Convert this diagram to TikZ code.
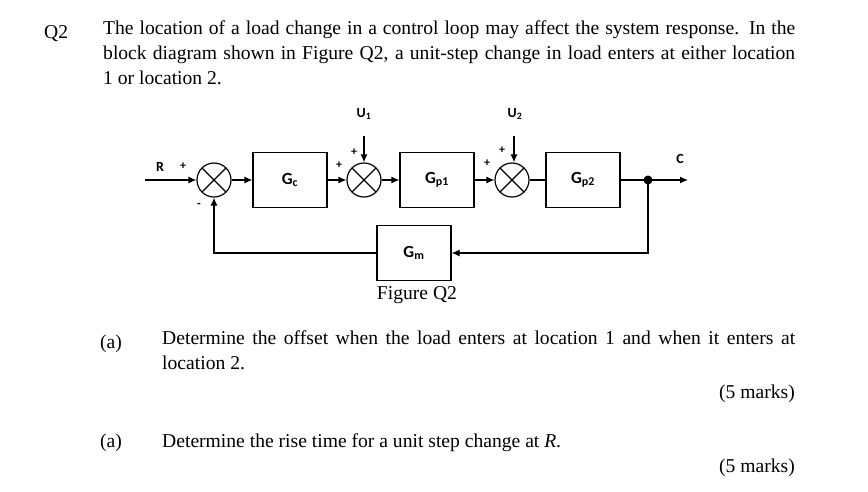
\documentclass[tikz,border=0pt]{standalone}
\usepackage{fontspec}
\setmainfont{Liberation Serif}
\newfontfamily\dfont{Carlito}
\usetikzlibrary{arrows.meta}
\begin{document}
\begin{tikzpicture}[x=1pt,y=-1pt,
  txt/.style={inner sep=0pt,font=\fontsize{19.6}{25}\selectfont},
  blk/.style={draw,line width=1.2pt,minimum width=74pt,minimum height=55pt,font=\dfont\bfseries\fontsize{17}{19}\selectfont},
  sum/.style={draw,line width=1.2pt,circle,minimum size=34pt,inner sep=0pt,path picture={\draw[line width=1.2pt] (path picture bounding box.north west)--(path picture bounding box.south east) (path picture bounding box.north east)--(path picture bounding box.south west);}},
  lbl/.style={font=\dfont\bfseries\fontsize{14}{15}\selectfont,inner sep=0pt},
  sg/.style={font=\dfont\bfseries\fontsize{12}{12}\selectfont,inner sep=0pt},
  ln/.style={line width=1.2pt},
  ar/.style={line width=1.2pt,-{Latex[length=8pt,width=7pt]}}]
\useasboundingbox (0,0) rectangle (868,491);
\node[txt,anchor=base west] (q) at (44,38) {Q2};
\node[txt,anchor=north west,text width=692pt,align=justify] (p) at (103,20) {\hyphenpenalty=10000 The location of a load change in a control loop may affect the system response. In the\linebreak block diagram shown in Figure Q2, a unit-step change in load enters at either location\linebreak 1 or location 2.};
% diagram
\node[sum] (s1) at (214,180) {};
\node[blk] (gc) at (290,180) {G\textsubscript{c}};
\node[sum] (s2) at (364,180) {};
\node[blk] (gp1) at (437,180) {G\textsubscript{p1}};
\node[sum] (s3) at (512,180) {};
\node[blk] (gp2) at (583,180) {G\textsubscript{p2}};
\node[blk] (gm) at (414,253) {G\textsubscript{m}};
\coordinate (rin) at (145,180);
\coordinate (dot) at (648,180);
\coordinate (cout) at (688,180);
\coordinate (u1s) at (364,136);
\coordinate (u2s) at (514,136);
\node[lbl] (r) at (160,167) {R};
\node[lbl] (c) at (680,159) {C};
\node[lbl] (u1) at (364,114) {U\textsubscript{1}};
\node[lbl] (u2) at (515,114) {U\textsubscript{2}};
\draw[ar] (rin)--(s1);
\draw[ar] (s1)--(gc);
\draw[ar] (gc)--(s2);
\draw[ar] (s2)--(gp1);
\draw[ar] (gp1)--(s3);
\draw[ln] (s3)--(gp2);
\draw[ln] (gp2)--(dot);
\draw[ar] (dot)--(cout);
\fill (dot) circle (4.5pt);
\draw[ar] (dot)|-(gm.east);
\draw[ar] (gm.west)-|(s1.south);
\draw[ar] (u1s)--(s2.north);
\draw[ar] (u2s)--(u2s|-s3.north);
\node[sg] at (183,166) {+};
\node[sg] at (199,205) {-};
\node[sg] at (339,165) {+};
\node[sg] at (354,152) {+};
\node[sg] at (487,163) {+};
\node[sg] at (502,150) {+};
\node[txt,anchor=base] (fig) at (417,299) {Figure Q2};
\node[txt,anchor=base west] (a1) at (100,348) {(a)};
\node[txt,anchor=north west,text width=633pt,align=justify] (pa) at (162,330) {\hyphenpenalty=10000 Determine the offset when the load enters at location 1 and when it enters at\linebreak location 2.};
\node[txt,anchor=base east] (m1) at (795,398) {(5 marks)};
\node[txt,anchor=base west] (a2) at (100,447) {(a)};
\node[txt,anchor=base west] (pb) at (162,447) {Determine the rise time for a unit step change at \textit{R}.};
\node[txt,anchor=base east] (m2) at (795,472) {(5 marks)};
\end{tikzpicture}
\end{document}
